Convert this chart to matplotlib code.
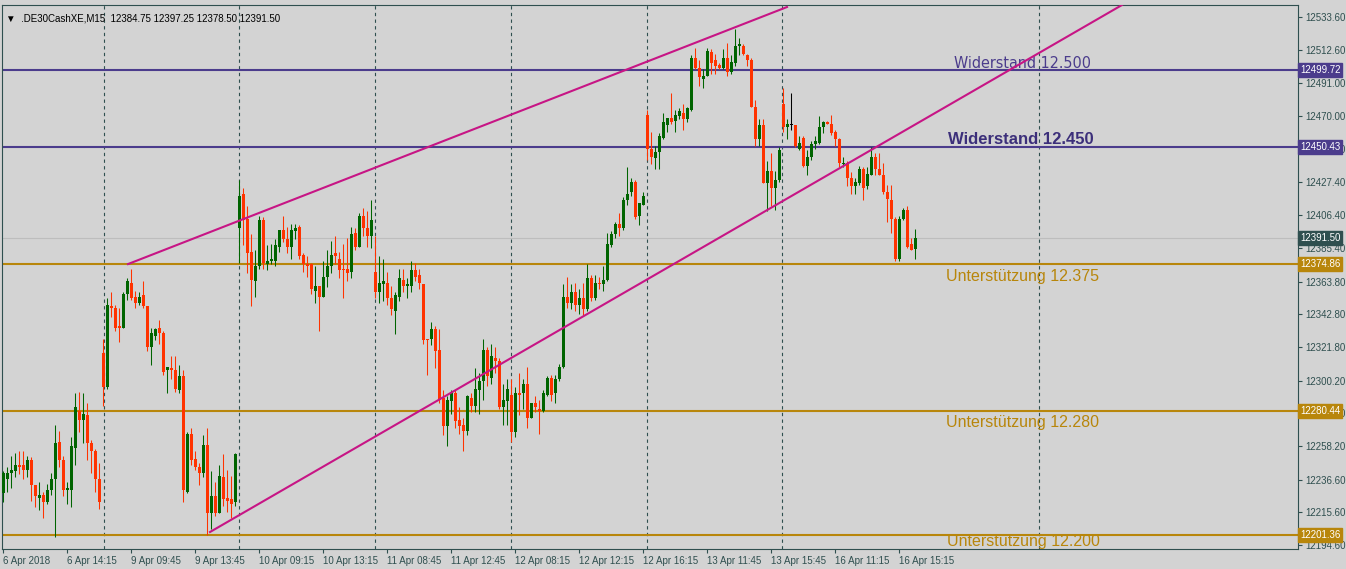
import numpy as np
import matplotlib
matplotlib.use("Agg")
import matplotlib.pyplot as plt

# M15 candles (open, high, low, close)
opens = [12228, 12237, 12241, 12242, 12246, 12246, 12243, 12249, 12233, 12225, 12227, 12222, 12230, 12237, 12261, 12249, 12230, 12230, 12257, 12281,
         12275, 12278, 12260, 12255, 12237, 12318, 12296, 12348, 12347, 12335, 12334, 12356, 12363, 12354, 12350, 12355, 12348, 12322, 12329, 12334,
         12331, 12307, 12308, 12307, 12294, 12303, 12229, 12266, 12250, 12245, 12241, 12259, 12215, 12226, 12215, 12238, 12225, 12224, 12222, 12398,
         12420, 12404, 12383, 12364, 12374, 12403, 12375, 12377, 12377, 12386, 12397, 12391, 12386, 12396, 12399, 12381, 12375, 12375, 12358, 12361,
         12354, 12367, 12374, 12382, 12378, 12372, 12372, 12370, 12395, 12386, 12406, 12398, 12393, 12370, 12357, 12362, 12363, 12353, 12345, 12354,
         12365, 12361, 12361, 12371, 12368, 12362, 12327, 12327, 12333, 12320, 12289, 12271, 12287, 12292, 12275, 12272, 12268, 12289, 12284, 12294,
         12300, 12320, 12302, 12315, 12313, 12283, 12287, 12291, 12267, 12292, 12292, 12298, 12276, 12286, 12282, 12281, 12291, 12302, 12292, 12301,
         12309, 12354, 12350, 12357, 12349, 12353, 12346, 12366, 12353, 12363, 12362, 12365, 12387, 12394, 12401, 12398, 12416, 12421, 12428, 12406,
         12413, 12471, 12449, 12443, 12447, 12456, 12464, 12469, 12467, 12470, 12472, 12468, 12474, 12507, 12501, 12494, 12496, 12511, 12506, 12503,
         12501, 12507, 12498, 12504, 12515, 12515, 12509, 12506, 12476, 12455, 12464, 12427, 12435, 12424, 12429, 12478, 12463, 12464, 12464, 12449,
         12456, 12438, 12444, 12452, 12453, 12463, 12466, 12465, 12460, 12455, 12439, 12440, 12430, 12425, 12427, 12436, 12425, 12432, 12444, 12436,
         12432, 12421, 12416, 12404, 12378, 12404, 12410, 12388, 12384.75]
highs = [12242, 12245, 12252, 12254, 12255, 12255, 12252, 12251, 12229, 12235, 12229, 12234, 12241, 12272, 12268, 12252, 12235, 12264, 12292, 12293,
         12292, 12286, 12262, 12256, 12247, 12327, 12353, 12357, 12349, 12347, 12357, 12366, 12372, 12358, 12357, 12364, 12348, 12334, 12334, 12339,
         12332, 12309, 12316, 12316, 12310, 12307, 12267, 12270, 12255, 12247, 12265, 12270, 12242, 12235, 12246, 12253, 12243, 12239, 12254, 12429,
         12424, 12412, 12394, 12384, 12406, 12405, 12387, 12388, 12391, 12397, 12406, 12399, 12401, 12401, 12400, 12382, 12380, 12376, 12374, 12361,
         12377, 12384, 12390, 12393, 12383, 12388, 12392, 12399, 12398, 12408, 12411, 12409, 12416, 12393, 12380, 12378, 12370, 12361, 12357, 12372,
         12372, 12366, 12377, 12376, 12372, 12362, 12327, 12338, 12335, 12333, 12294, 12290, 12294, 12294, 12283, 12276, 12291, 12292, 12308, 12305,
         12327, 12322, 12324, 12322, 12315, 12298, 12301, 12301, 12296, 12305, 12301, 12309, 12286, 12290, 12288, 12294, 12303, 12304, 12304, 12311,
         12362, 12367, 12362, 12363, 12359, 12363, 12375, 12368, 12368, 12367, 12374, 12395, 12396, 12402, 12408, 12418, 12437, 12430, 12429, 12414,
         12421, 12474, 12460, 12451, 12459, 12472, 12469, 12485, 12474, 12475, 12478, 12476, 12509, 12514, 12506, 12500, 12514, 12513, 12510, 12504,
         12513, 12517, 12509, 12526, 12520, 12516, 12510, 12507, 12480, 12468, 12468, 12441, 12446, 12435, 12450, 12488, 12468, 12485, 12464, 12457,
         12457, 12448, 12454, 12457, 12470, 12467, 12467, 12471, 12461, 12456, 12444, 12441, 12434, 12430, 12438, 12437, 12437, 12450, 12446, 12446,
         12440, 12426, 12426, 12405, 12406, 12411, 12412, 12392, 12397.25]
lows = [12222, 12229, 12231, 12238, 12240, 12237, 12238, 12223, 12219, 12217, 12212, 12221, 12227, 12200, 12245, 12226, 12221, 12219, 12246, 12267,
        12260, 12249, 12241, 12229, 12218, 12284, 12295, 12341, 12332, 12325, 12334, 12352, 12352, 12347, 12349, 12347, 12319, 12310, 12326, 12324,
        12304, 12292, 12301, 12293, 12292, 12222, 12228, 12246, 12243, 12233, 12238, 12201, 12205, 12213, 12215, 12220, 12216, 12212, 12220, 12376,
        12387, 12369, 12348, 12354, 12372, 12372, 12371, 12375, 12374, 12383, 12389, 12382, 12378, 12391, 12378, 12370, 12367, 12356, 12350, 12332,
        12354, 12360, 12369, 12375, 12366, 12353, 12364, 12366, 12384, 12386, 12393, 12386, 12385, 12353, 12350, 12351, 12349, 12342, 12330, 12351,
        12357, 12353, 12357, 12364, 12359, 12324, 12304, 12323, 12308, 12286, 12265, 12258, 12279, 12270, 12266, 12255, 12265, 12280, 12280, 12279,
        12288, 12297, 12298, 12305, 12282, 12272, 12272, 12261, 12264, 12278, 12282, 12270, 12276, 12280, 12266, 12280, 12290, 12287, 12286, 12300,
        12308, 12347, 12346, 12345, 12343, 12342, 12345, 12351, 12352, 12359, 12358, 12364, 12386, 12392, 12393, 12397, 12413, 12419, 12404, 12400,
        12413, 12442, 12439, 12436, 12436, 12455, 12460, 12465, 12460, 12468, 12461, 12466, 12473, 12500, 12489, 12488, 12496, 12497, 12497, 12500,
        12500, 12496, 12497, 12502, 12509, 12509, 12502, 12476, 12451, 12451, 12427, 12409, 12412, 12410, 12428, 12460, 12455, 12461, 12450, 12448,
        12437, 12432, 12442, 12449, 12452, 12459, 12465, 12458, 12451, 12437, 12437, 12425, 12420, 12420, 12426, 12416, 12423, 12432, 12432, 12432,
        12420, 12402, 12395, 12377, 12377, 12403, 12385, 12384, 12378.50]
closes = [12241, 12241, 12243, 12246, 12245, 12243, 12249, 12233, 12226, 12227, 12222, 12230, 12237, 12260, 12249, 12230, 12231, 12258, 12283, 12275,
          12279, 12260, 12255, 12237, 12222, 12296, 12349, 12347, 12334, 12334, 12356, 12364, 12353, 12350, 12354, 12348, 12322, 12331, 12333, 12331,
          12306, 12309, 12307, 12295, 12303, 12230, 12266, 12249, 12245, 12241, 12259, 12215, 12226, 12215, 12239, 12224, 12223, 12221, 12253, 12419,
          12403, 12382, 12365, 12374, 12403, 12376, 12377, 12378, 12387, 12397, 12391, 12386, 12397, 12398, 12380, 12375, 12374, 12359, 12361, 12354,
          12367, 12374, 12381, 12380, 12371, 12371, 12369, 12394, 12386, 12406, 12398, 12393, 12403, 12357, 12363, 12364, 12353, 12346, 12355, 12366,
          12361, 12362, 12371, 12367, 12363, 12326, 12326, 12333, 12319, 12288, 12271, 12288, 12293, 12274, 12271, 12268, 12290, 12284, 12295, 12300,
          12320, 12303, 12316, 12313, 12283, 12288, 12295, 12267, 12292, 12291, 12298, 12276, 12286, 12283, 12281, 12292, 12302, 12291, 12301, 12309,
          12354, 12350, 12357, 12349, 12353, 12346, 12366, 12353, 12363, 12362, 12365, 12388, 12394, 12401, 12398, 12416, 12420, 12428, 12405, 12414,
          12419, 12449, 12444, 12447, 12457, 12466, 12469, 12466, 12471, 12473, 12468, 12475, 12507, 12501, 12495, 12496, 12512, 12504, 12502, 12501,
          12507, 12498, 12505, 12515, 12516, 12510, 12506, 12476, 12455, 12464, 12427, 12435, 12424, 12429, 12448, 12463, 12465, 12464, 12451, 12453,
          12438, 12444, 12452, 12454, 12463, 12466, 12465, 12459, 12455, 12440, 12440, 12430, 12425, 12428, 12436, 12424, 12433, 12444, 12436, 12432,
          12421, 12417, 12404, 12378, 12404, 12410, 12386, 12384, 12391.50]

levels = [12499.72, 12450.43, 12374.86, 12280.44, 12201.36]
level_colors = ["#4B3C8C", "#4B3C8C", "#B8860B", "#B8860B", "#B8860B"]
level_texts = ["Widerstand 12.500", "Widerstand 12.450", "Unterstützung 12.375",
               "Unterstützung 12.280", "Unterstützung 12.200"]
# trend channel anchors (bar index, price)
upper_line = [(31.25, 12375.0), (196.0, 12540.0)]
lower_line = [(51.75, 12203.0), (279.75, 12541.3)]
separators = [25.25, 59, 93, 127, 161, 194.75, 259]
time_labels = ["6 Apr 2018", "6 Apr 14:15", "9 Apr 09:45", "9 Apr 13:45", "10 Apr 09:15", "10 Apr 13:15",
               "11 Apr 08:45", "11 Apr 12:45", "12 Apr 08:15", "12 Apr 12:15", "12 Apr 16:15",
               "13 Apr 11:45", "13 Apr 15:45", "16 Apr 11:15", "16 Apr 15:15"]
price_ticks = [12533.60, 12512.60, 12491.00, 12470.00, 12449.00, 12427.40, 12406.40, 12385.40, 12363.80,
               12342.80, 12321.80, 12300.20, 12279.20, 12258.20, 12236.60, 12215.60, 12194.60]
last_price = 12391.50

plt.rcParams['font.family'] = ['Liberation Sans', 'DejaVu Sans']
bg = "#D3D3D3"
axcol = "#2F4F4F"
fig = plt.figure(figsize=(13.46, 5.69), dpi=100, facecolor=bg)
ax = fig.add_axes([2 / 1346, 20 / 569, 1296 / 1346, 544 / 569])
ax.set_facecolor(bg)
ax.set_xlim(-0.25, 323.75)
ax.set_ylim(12192.1, 12541.3)

for s in separators:
    ax.axvline(s, color=axcol, ls=(0, (3, 3)), lw=0.8, zorder=1)
ax.axhline(last_price, color="#BDBDBD", lw=0.8, zorder=1)

for lv, col in zip(levels, level_colors):
    ax.axhline(lv, color=col, lw=1.5, zorder=2)

idx = np.arange(len(closes))
for i in idx:
    o, h, lo, c = opens[i], highs[i], lows[i], closes[i]
    if c > o:
        col = "#006400"
    elif c < o:
        col = "#FF3300"
    else:
        col = "black"
    ax.vlines(i, lo, h, color=col, lw=0.75, zorder=3)
    ax.bar(i, max(abs(c - o), 0.6), bottom=min(o, c), width=0.75, color=col, zorder=4)

for line in (upper_line, lower_line):
    xs, ys = zip(*line)
    ax.plot(xs, ys, color="#C71585", lw=1.5, zorder=5)

# level annotations
ax.text(255, 12504, level_texts[0], color="#4B3C8C", fontsize=11.5, ha="center", va="center", family="DejaVu Sans", stretch="condensed")
ax.text(254.5, 12455, level_texts[1], color="#3C2F7A", fontsize=12, fontweight="bold", ha="center", va="center")
ax.text(255, 12367, level_texts[2], color="#B8860B", fontsize=11.5, ha="center", va="center")
ax.text(255, 12273, level_texts[3], color="#B8860B", fontsize=11.5, ha="center", va="center")
ax.text(255, 12197, level_texts[4], color="#B8860B", fontsize=11.5, ha="center", va="center")

ax.text(0.003, 0.985, "▼  .DE30CashXE,M15  12384.75 12397.25 12378.50 12391.50",
        transform=ax.transAxes, fontsize=7, color="black", va="top")

ax.set_xticks(np.arange(len(time_labels)) * 16)
ax.set_xticklabels(time_labels, ha="left", fontsize=7, color=axcol)
ax.yaxis.tick_right()
ax.set_yticks(price_ticks)
ax.set_yticklabels([f"{p:.2f}" for p in price_ticks], fontsize=7, color=axcol)
ax.tick_params(axis="both", colors=axcol, length=3, pad=2, labelcolor=axcol)
for sp in ax.spines.values():
    sp.set_color(axcol)

# price tags on the right scale
for lv, col in zip(levels + [last_price], level_colors + [axcol]):
    ax.text(1.0015, lv, f"{lv:.2f}", transform=ax.get_yaxis_transform(), fontsize=7, color="white",
            va="center", ha="left", bbox=dict(boxstyle="square,pad=0.2", fc=col, ec=col), zorder=10)

fig.savefig("out.png", dpi=100, facecolor=bg)
